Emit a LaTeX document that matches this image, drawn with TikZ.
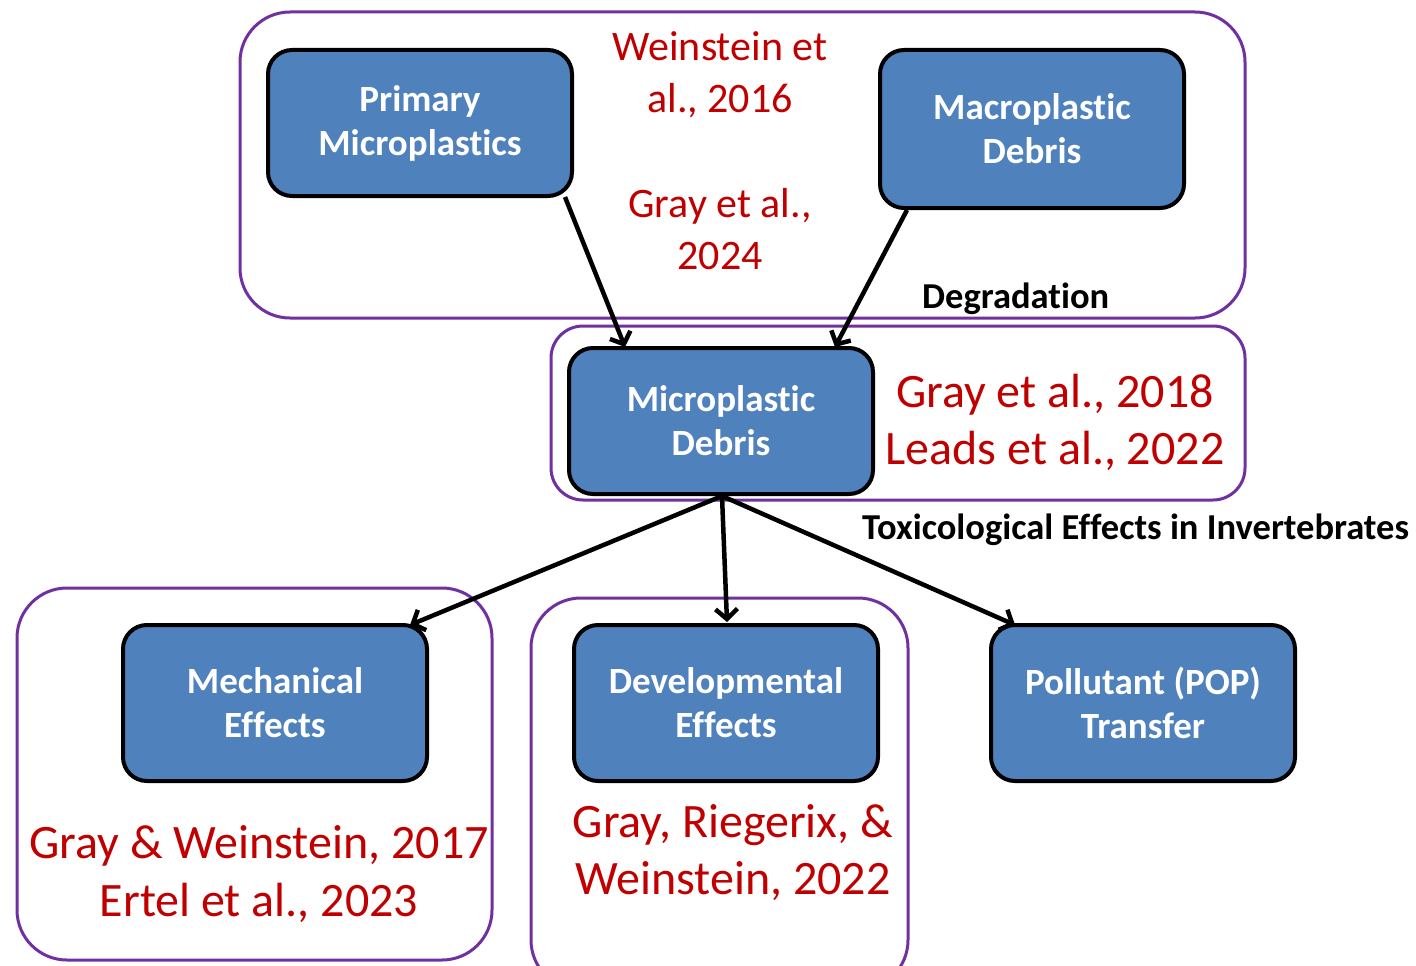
\documentclass[tikz,border=0pt]{standalone}
\usepackage{fontspec}
\setmainfont[Ligatures=NoCommon]{Carlito}
\usetikzlibrary{arrows.meta}
\definecolor{boxblue}{HTML}{4F81BD}
\definecolor{refred}{HTML}{C00000}
\definecolor{frame}{HTML}{7030A0}
\begin{document}
\begin{tikzpicture}[x=1pt,y=-1pt,
  bluebox/.style={draw=black,line width=4pt,fill=boxblue,rounded corners=24pt,minimum width=304pt,minimum height=146pt,text=white,font=\fontsize{37}{44}\selectfont\bfseries,align=center,inner sep=0pt},
  groupframe/.style={draw=frame,line width=3pt,rounded corners=50pt},
  reftext/.style={text=refred,align=center,inner sep=0pt},
  lbl/.style={font=\fontsize{36.5}{40}\selectfont\bfseries,inner sep=0pt,anchor=west},
  conn/.style={draw=black,line width=4.5pt,-{Straight Barb[length=10pt,width=22pt,line width=4.5pt]}}
]
\useasboundingbox (0,0) rectangle (1416,966);
% frames
\draw[groupframe] (240,12) rectangle (1245,318);
\draw[groupframe,rounded corners=32pt] (551,326) rectangle (1245,500);
\draw[groupframe] (17,588) rectangle (492,960);
\draw[groupframe] (531,598) rectangle (908,990);
% boxes
\node[bluebox] (pm) at (420,123) {Primary\\Microplastics};
\node[bluebox,minimum height=158pt] (mac) at (1032,129) {Macroplastic\\Debris};
\node[bluebox] (mic) at (721,421) {Microplastic\\Debris};
\node[bluebox,minimum height=156pt] (mech) at (275,703) {Mechanical\\Effects};
\node[bluebox,minimum height=156pt] (dev) at (726,703) {Developmental\\Effects};
\node[bluebox,minimum height=156pt] (pop) at (1143,703) {Pollutant (POP)\\Transfer};
% reference texts
\node[reftext,font=\fontsize{42}{52}\selectfont] (r1) at (720,75) {Weinstein et\\al., 2016};
\node[reftext,font=\fontsize{42}{52}\selectfont] (r2) at (720,229) {Gray et al.,\\2024};
\node[reftext,font=\fontsize{48}{57}\selectfont] (r3) at (1055,422) {Gray et al., 2018\\Leads et al., 2022};
\node[reftext,font=\fontsize{48}{58}\selectfont] (r4) at (259,874) {Gray \& Weinstein, 2017\\Ertel et al., 2023};
\node[reftext,font=\fontsize{48}{57}\selectfont] (r5) at (733,853) {Gray, Riegerix, \&\\Weinstein, 2022};
% labels
\node[lbl] (deg) at (922,299) {Degradation};
\node[lbl] (tox) at (862,530) {Toxicological Effects in Invertebrates};
% connectors
\coordinate (pmout) at (565,197);
\coordinate (macout) at (907,210);
\coordinate (micout) at (722,496);
\draw[conn] (pmout) -- (625,347);
\draw[conn] (macout) -- (835,347);
\draw[conn] (micout) -- (410,625);
\draw[conn] (micout) -- (727,622);
\draw[conn] (micout) -- (1015,625);
\end{tikzpicture}
\end{document}
